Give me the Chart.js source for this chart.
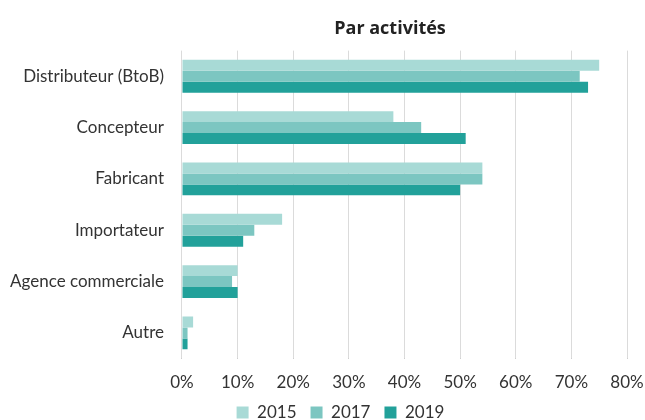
<!DOCTYPE html>
<html>
<head>
<meta charset="utf-8">
<script src="https://cdn.jsdelivr.net/npm/chart.js@4.4.0/dist/chart.umd.min.js"></script>
<style>
  html, body { margin: 0; padding: 0; background: #fff; }
  #wrap { width: 645px; height: 420px; }
</style>
</head>
<body>
<div id="wrap"><canvas id="chart" width="645" height="420"></canvas></div>
<script>
var categories = ['Distributeur (BtoB)', 'Concepteur', 'Fabricant', 'Importateur', 'Agence commerciale', 'Autre'];
var years = ['2015', '2017', '2019'];
var values2015 = [75, 38, 54, 18, 10, 2];
var values2017 = [71.5, 43, 54, 13, 9, 1];
var values2019 = [73, 51, 50, 11, 10, 1];
var colors = ['#a8dad6', '#7cc6c1', '#22a19a'];

var fontFamily = "Lato, 'Open Sans', sans-serif";

// title sits over the plot area, legend slightly right of centre
var shiftBlocks = {
    id: 'shiftBlocks',
    afterLayout: function(chart) {
        var area = chart.chartArea;
        if (chart.titleBlock) {
            chart.titleBlock.left = area.left - 29;
            chart.titleBlock.right = area.right;
        }
        if (chart.legend) {
            chart.legend.left += 36;
        }
    }
};

function renderChart() {
    var ctx = document.getElementById('chart').getContext('2d');
    new Chart(ctx, {
        type: 'bar',
        data: {
            labels: categories,
            datasets: [
                { label: years[0], data: values2015, backgroundColor: colors[0] },
                { label: years[1], data: values2017, backgroundColor: colors[1] },
                { label: years[2], data: values2019, backgroundColor: colors[2] }
            ]
        },
        options: {
            indexAxis: 'y',
            responsive: false,
            animation: false,
            datasets: {
                bar: { categoryPercentage: 0.64, barPercentage: 1.0 }
            },
            layout: { padding: { left: 0, right: 0, top: 8, bottom: -11 } },
            plugins: {
                title: {
                    display: true,
                    text: 'Par activités',
                    color: '#222',
                    font: { family: "'Open Sans', sans-serif", size: 18, weight: 'bold' },
                    padding: { top: 10, bottom: 11 }
                },
                legend: {
                    position: 'bottom',
                    labels: {
                        color: '#333',
                        font: { family: fontFamily, size: 17 },
                        boxWidth: 12,
                        boxHeight: 12,
                        padding: 14
                    }
                },
                tooltip: { enabled: false }
            },
            scales: {
                x: {
                    min: 0,
                    max: 80,
                    z: 1,
                    ticks: {
                        stepSize: 10,
                        color: '#333',
                        font: { family: fontFamily, size: 17 },
                        callback: function(v) { return v + '%'; },
                        padding: 14
                    },
                    grid: { color: 'rgba(0,0,0,0.14)', tickLength: 0 },
                    border: { display: false },
                    afterFit: function(scale) {
                        scale.height -= 17;
                        scale.paddingRight = 18;
                    }
                },
                y: {
                    ticks: {
                        color: '#333',
                        font: { family: fontFamily, size: 17 },
                        padding: 10
                    },
                    grid: { display: false },
                    border: { display: false }
                }
            }
        },
        plugins: [shiftBlocks]
    });
}

renderChart();
</script>
</body>
</html>
